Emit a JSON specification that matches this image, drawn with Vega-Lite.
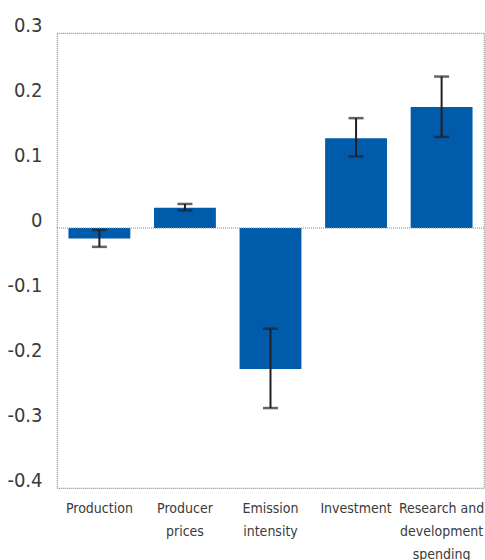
{
  "$schema": "https://vega.github.io/schema/vega-lite/v6.json",
  "width": 427,
  "height": 455,
  "autosize": "none",
  "padding": {"left": 57, "top": 33, "right": 1, "bottom": 72},
  "background": "white",
  "data": {
    "values": [
      {"category": "Production", "value": -0.016, "lower": -0.029, "upper": -0.003},
      {"category": "Producer|prices", "value": 0.031, "lower": 0.027, "upper": 0.037},
      {"category": "Emission|intensity", "value": -0.217, "lower": -0.277, "upper": -0.155},
      {"category": "Investment", "value": 0.138, "lower": 0.110, "upper": 0.169},
      {"category": "Research and|development|spending", "value": 0.186, "lower": 0.140, "upper": 0.233}
    ]
  },
  "encoding": {
    "x": {
      "field": "category",
      "type": "nominal",
      "sort": null,
      "scale": {"paddingInner": 0.277, "paddingOuter": 0.134},
      "axis": {
        "title": null,
        "labelAngle": 0,
        "domain": false,
        "ticks": false,
        "labelPadding": 13,
        "labelFont": "DejaVu Sans Condensed",
        "labelFontSize": 14,
        "labelColor": "#3a3a3a",
        "labelLineHeight": 23,
        "labelExpr": "split(datum.value, '|')"
      }
    }
  },
  "layer": [
    {
      "mark": {"type": "bar", "color": "#005BAA"},
      "encoding": {
        "y": {
          "field": "value",
          "type": "quantitative",
          "scale": {"domain": [-0.4, 0.3], "nice": false},
          "axis": {
            "title": null,
            "values": [-0.4, -0.3, -0.2, -0.1, 0, 0.1, 0.2, 0.3],
            "grid": false,
            "domain": false,
            "ticks": false,
            "labelPadding": 15,
            "labelOffset": -8,
            "labelFont": "DejaVu Sans Condensed",
            "labelFontSize": 20,
            "labelColor": "#3a3a3a",
            "labelExpr": "datum.value == 0 ? '0' : (datum.value < 0 ? '-' : '') + format(abs(datum.value), '.1f')"
          }
        }
      }
    },
    {
      "data": {"values": [{"zero": 0}]},
      "mark": {"type": "rule", "color": "#888888", "strokeDash": [1, 1], "strokeWidth": 1.2},
      "encoding": {"y": {"field": "zero", "type": "quantitative"}, "x": null}
    },
    {
      "mark": {"type": "rule", "color": "#231F20", "strokeWidth": 2},
      "encoding": {
        "y": {"field": "lower", "type": "quantitative"},
        "y2": {"field": "upper"}
      }
    },
    {
      "mark": {"type": "tick", "color": "#231F20", "thickness": 2.5, "size": 15},
      "encoding": {"y": {"field": "lower", "type": "quantitative"}}
    },
    {
      "mark": {"type": "tick", "color": "#231F20", "thickness": 2.5, "size": 15},
      "encoding": {"y": {"field": "upper", "type": "quantitative"}}
    }
  ],
  "config": {
    "view": {"stroke": "#888888", "strokeDash": [1, 1], "strokeWidth": 1.2}
  }
}
